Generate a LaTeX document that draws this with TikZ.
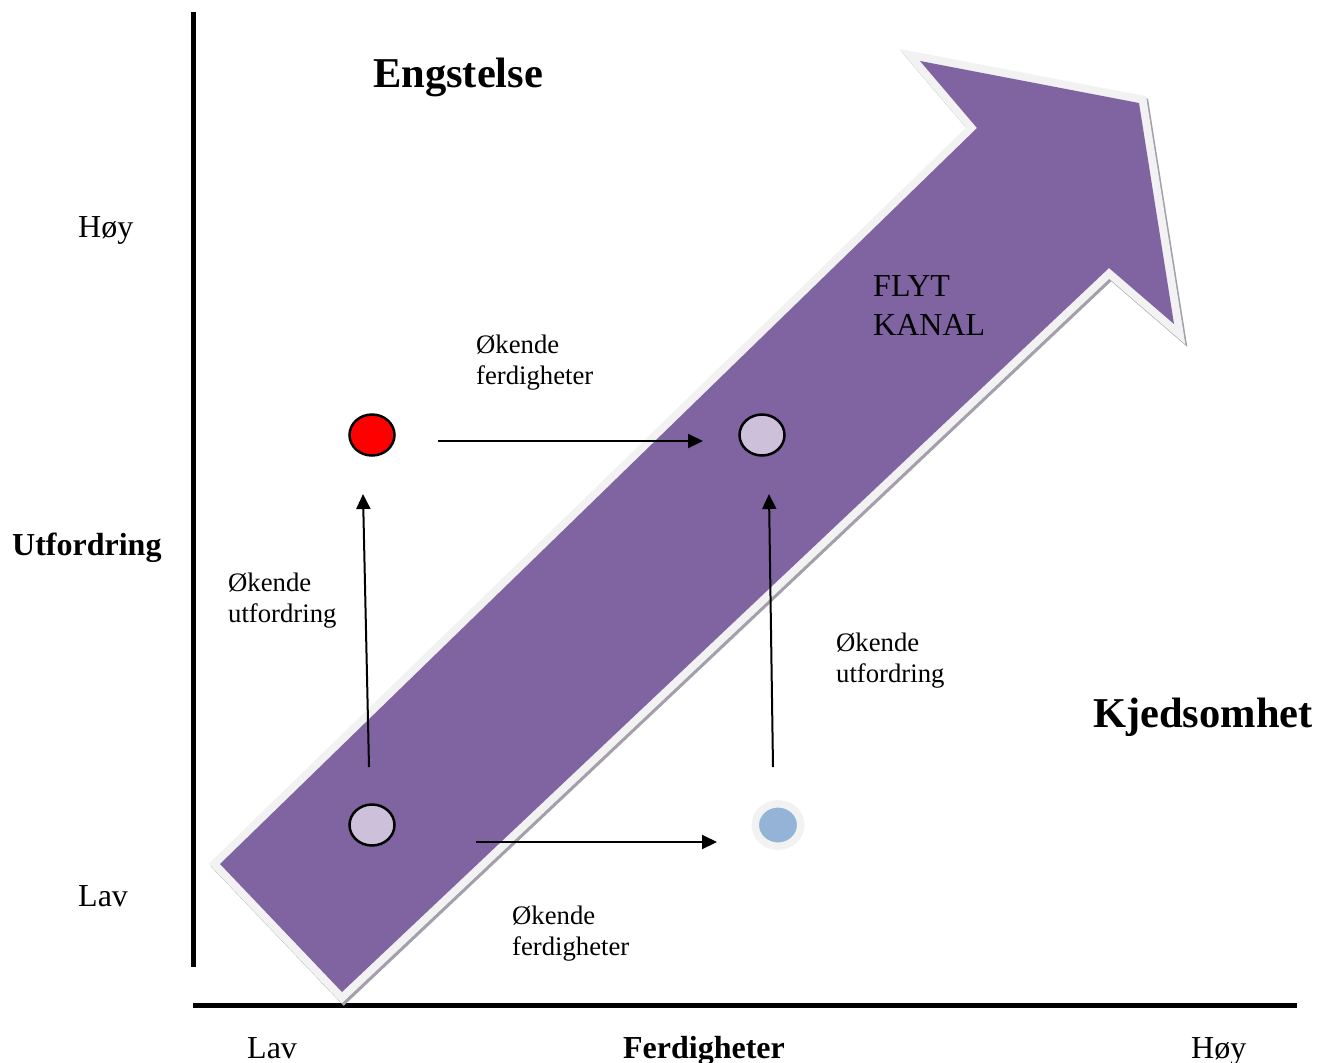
\documentclass[tikz,border=0pt]{standalone}
\usepackage{fontspec}
\setmainfont{Liberation Serif}
\usetikzlibrary{arrows.meta,shapes.geometric}

\definecolor{flow}{HTML}{8064A2}
\definecolor{rim}{HTML}{F2F2F2}
\definecolor{rimshade}{HTML}{A39FAB}
\definecolor{lilac}{HTML}{CCC0DA}
\definecolor{skyblue}{HTML}{95B3D7}

\begin{document}
\begin{tikzpicture}[x=1pt,y=-1pt,
  axisline/.style={line width=5pt,line cap=butt},
  heading/.style={font=\fontsize{42.5}{48}\selectfont\bfseries,inner sep=0pt},
  axistitle/.style={font=\fontsize{32}{36}\selectfont\bfseries,inner sep=0pt},
  ticklabel/.style={font=\fontsize{32}{36}\selectfont,inner sep=0pt},
  note/.style={font=\fontsize{26.7}{31.5}\selectfont,align=left,inner sep=0pt},
  flowtext/.style={font=\fontsize{32}{39}\selectfont,align=left,inner sep=0pt},
  state/.style={ellipse,minimum width=45pt,minimum height=41pt,inner sep=0pt,draw=black,line width=2.5pt},
  move/.style={line width=2pt,-{Triangle[length=15pt,width=14pt]}},
  band/.style={line width=16pt,line join=miter,miter limit=10}]

\useasboundingbox (0,0) rectangle (1318,1063);

% axes
\coordinate (ytop) at (193,12);
\coordinate (ybot) at (193,967);
\coordinate (xleft) at (193,1005);
\coordinate (xright) at (1297,1005);
\draw[axisline] (ytop) -- (ybot);
\draw[axisline] (xleft) -- (xright);

% flow channel arrow: drop shadow, light rim, purple body
\def\channel{(220,864) -- (342,992) -- (1109,268) -- (1174,324)
  -- (1139,103) -- (920,61) -- (977,128) -- cycle}
\filldraw[band,rimshade,shift={(2,2.5)}] \channel;
\draw[band,rim] \channel;
\fill[flow] \channel;

% multi-line nodes: the base anchor sits on the last line
\node[flowtext,anchor=base west] (kanal) at (873,335) {FLYT\\KANAL};

% headings and axis labels
\node[heading,anchor=base west] (fear) at (373,87) {Engstelse};
\node[heading,anchor=base west] (bore) at (1093,727) {Kjedsomhet};
\node[axistitle,anchor=base west] (ylab) at (12,555) {Utfordring};
\node[axistitle,anchor=base] (xlab) at (704,1058) {Ferdigheter};
\node[ticklabel,anchor=base west] (yhigh) at (78,237) {Høy};
\node[ticklabel,anchor=base west] (ylow) at (78,906) {Lav};
\node[ticklabel,anchor=base west] (xlow) at (247,1058) {Lav};
\node[ticklabel,anchor=base west] (xhigh) at (1191,1058) {Høy};

% states
\node[state,fill=red] (anx) at (372,435) {};
\node[state,fill=lilac] (flowhi) at (762,435) {};
\node[state,fill=lilac] (flowlo) at (372,825) {};
\node[ellipse,minimum width=45.5pt,minimum height=42.5pt,inner sep=0pt,
  fill=skyblue,draw=rim,line width=7.5pt] (bored) at (778,825) {};

% moves between states
\coordinate (m1s) at (438,441);
\coordinate (m1e) at (703,441);
\coordinate (m2s) at (476,842);
\coordinate (m2e) at (717,842);
\coordinate (m3s) at (369,767);
\coordinate (m3e) at (363,494);
\coordinate (m4s) at (773,767);
\coordinate (m4e) at (769,494);
\draw[move] (m1s) -- (m1e);
\draw[move] (m2s) -- (m2e);
\draw[move] (m3s) -- (m3e);
\draw[move] (m4s) -- (m4e);

\node[note,anchor=base west] (n1) at (476,384.5) {Økende\\ferdigheter};
\node[note,anchor=base west] (n2) at (228,622.5) {Økende\\utfordring};
\node[note,anchor=base west] (n3) at (836,682.5) {Økende\\utfordring};
\node[note,anchor=base west] (n4) at (512,955.5) {Økende\\ferdigheter};

\end{tikzpicture}
\end{document}
